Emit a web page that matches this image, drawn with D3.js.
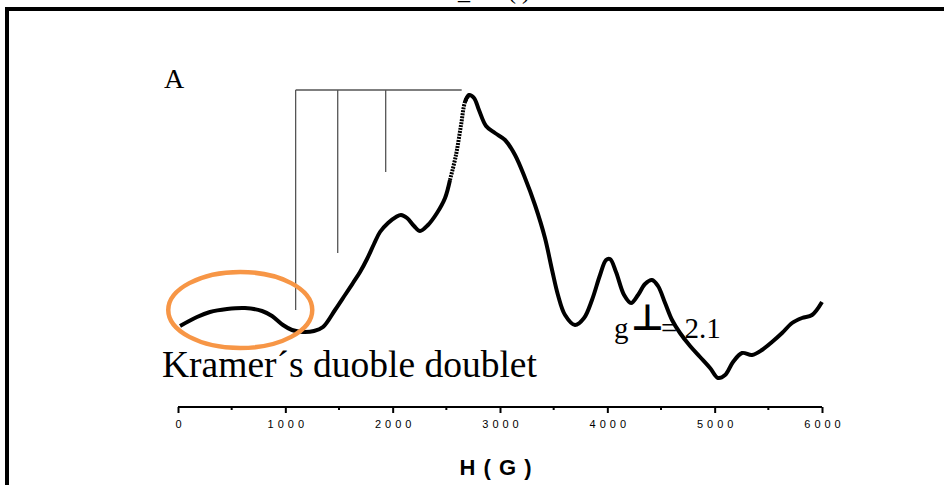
<html>
<head>
    <script src="https://d3js.org/d3.v7.min.js" charset="utf-8"></script>
    <style>
        body { margin: 0; background: #fff; }
    </style>
</head>

<body>
    <script type="text/javascript">
        var width = 944;
        var height = 485;

        // Spectrum: field H (G) and intensity (arbitrary units)
        var fieldH = [19, 177, 298, 457, 624, 783, 876, 978, 1062, 1165, 1267, 1351, 1463, 1556, 1630,
            1696, 1761, 1826, 1882, 1957, 2031, 2078, 2134, 2199, 2255, 2329, 2413, 2488, 2534, 2590,
            2637, 2674, 2711, 2758, 2804, 2870, 2953, 3047, 3140, 3233, 3326, 3419, 3485, 3540, 3606,
            3699, 3783, 3857, 3932, 3988, 4025, 4081, 4156, 4221, 4286, 4351, 4416, 4472, 4538, 4603,
            4677, 4771, 4864, 4957, 5031, 5097, 5171, 5255, 5348, 5441, 5534, 5628, 5721, 5814, 5907, 6000];
        var intensity = [81, 90, 95, 98, 99, 96, 91, 82, 77, 75, 76, 80, 97, 112, 124,
            135, 148, 163, 175, 184, 190, 192, 189, 181, 176, 182, 194, 209, 227, 252,
            282, 305, 312, 309, 297, 281, 274, 267, 252, 229, 202, 169, 137, 112, 92,
            82, 89, 107, 132, 147, 148, 135, 112, 104, 112, 123, 127, 121, 104, 87,
            74, 61, 50, 39, 29, 32, 45, 54, 52, 57, 65, 74, 84, 89, 92, 105];

        // Stick diagram: line positions (G) and their lower ends (same intensity units)
        var stickH = [1096, 1488, 1935];
        var stickEnd = [97, 154, 235];
        var stickTop = 317;
        var stickRight = 2643;

        var tickValues = [0, 1000, 2000, 3000, 4000, 5000, 6000];
        var minorTicks = [500, 1500, 2500, 3500, 4500, 5500];

        const svg = d3.select("body").append("svg")
            .attr("width", width)
            .attr("height", height);

        var xScale = d3.scaleLinear().domain([0, 6000]).range([178, 822]);
        var yScale = d3.scaleLinear().domain([0, 317]).range([407, 90]);

        // frame (right and bottom edges fall outside the picture)
        svg.append("rect")
            .attr("x", 7).attr("y", 9)
            .attr("width", 1200).attr("height", 1000)
            .attr("fill", "none")
            .attr("stroke", "#000")
            .attr("stroke-width", 4);

        // cut-off title fragment at the very top
        svg.append("text")
            .attr("x", 458).attr("y", -1)
            .style("font-family", "Liberation Serif")
            .style("font-size", "24px")
            .text("_");
        svg.append("text")
            .attr("x", 508).attr("y", -1)
            .style("font-family", "Liberation Serif")
            .style("font-size", "24px")
            .text("(  )");

        // x axis
        var axis = svg.append("g")
            .attr("transform", "translate(0,407)")
            .call(d3.axisBottom(xScale).tickValues(tickValues).tickSize(6).tickFormat(d3.format("d")));
        axis.select(".domain").attr("stroke-width", 2).attr("d", "M178,0H822");
        axis.selectAll(".tick line").attr("stroke-width", 2);
        axis.selectAll(".tick text")
            .attr("y", 13)
            .attr("dx", 2)
            .style("font-family", "Liberation Sans")
            .style("font-size", "11px")
            .style("letter-spacing", "4px")
            .attr("fill", "#000");
        axis.selectAll(".minor")
            .data(minorTicks)
            .join("line")
                .attr("class", "minor")
                .attr("x1", d => xScale(d)).attr("x2", d => xScale(d))
                .attr("y1", 0).attr("y2", 3)
                .attr("stroke", "#000")
                .attr("stroke-width", 2);

        svg.append("text")
            .attr("x", 496).attr("y", 475)
            .attr("text-anchor", "middle")
            .style("font-family", "Liberation Sans")
            .style("font-weight", "bold")
            .style("font-size", "22px")
            .style("letter-spacing", "1px")
            .text("H ( G )");

        // stick diagram
        var sticks = svg.append("g").attr("stroke", "#555").attr("stroke-width", 1.3);
        sticks.append("line")
            .attr("x1", xScale(stickH[0])).attr("x2", xScale(stickRight))
            .attr("y1", yScale(stickTop)).attr("y2", yScale(stickTop));
        sticks.selectAll(".stick")
            .data(stickH)
            .join("line")
                .attr("class", "stick")
                .attr("x1", d => xScale(d)).attr("x2", d => xScale(d))
                .attr("y1", yScale(stickTop))
                .attr("y2", (d, i) => yScale(stickEnd[i]));

        // spectrum
        var data = fieldH.map((h, i) => ({ h: h, v: intensity[i] }));
        var line = d3.line()
            .x(d => xScale(d.h))
            .y(d => yScale(d.v))
            .curve(d3.curveCatmullRom);

        var first = data.filter(d => d.h <= 2534);
        var dotted = data.filter(d => d.h >= 2534 && d.h <= 2711);
        var rest = data.filter(d => d.h >= 2674);

        svg.append("path").datum(first).attr("d", line)
            .attr("fill", "none").attr("stroke", "#000").attr("stroke-width", 4);
        svg.append("path").datum(dotted).attr("d", line)
            .attr("fill", "none").attr("stroke", "#000").attr("stroke-width", 4)
            .attr("stroke-dasharray", "2,1");
        svg.append("path").datum(rest).attr("d", line)
            .attr("fill", "none").attr("stroke", "#000").attr("stroke-width", 4);

        // Kramers doublet marker
        svg.append("ellipse")
            .attr("cx", xScale(580)).attr("cy", yScale(97))
            .attr("rx", 72).attr("ry", 38)
            .attr("fill", "none")
            .attr("stroke", "#F79646")
            .attr("stroke-width", 4.5);

        svg.append("text")
            .attr("x", 162).attr("y", 377)
            .style("font-family", "Liberation Serif")
            .style("font-size", "37.5px")
            .text("Kramer\u00B4s duoble doublet");

        svg.append("text")
            .attr("x", 164).attr("y", 88)
            .style("font-family", "Liberation Serif")
            .style("font-size", "28px")
            .text("A");

        // g-perpendicular label
        svg.append("text")
            .attr("x", 614).attr("y", 338)
            .style("font-family", "Liberation Serif")
            .style("font-size", "29px")
            .text("g");
        svg.append("text")
            .attr("x", 631).attr("y", 330)
            .style("font-family", "DejaVu Sans")
            .style("font-weight", "bold")
            .style("font-size", "36px")
            .text("\u22A5");
        svg.append("text")
            .attr("x", 661).attr("y", 338)
            .style("font-family", "Liberation Serif")
            .style("font-size", "29px")
            .text("= 2.1");
    </script>
</body>
</html>
